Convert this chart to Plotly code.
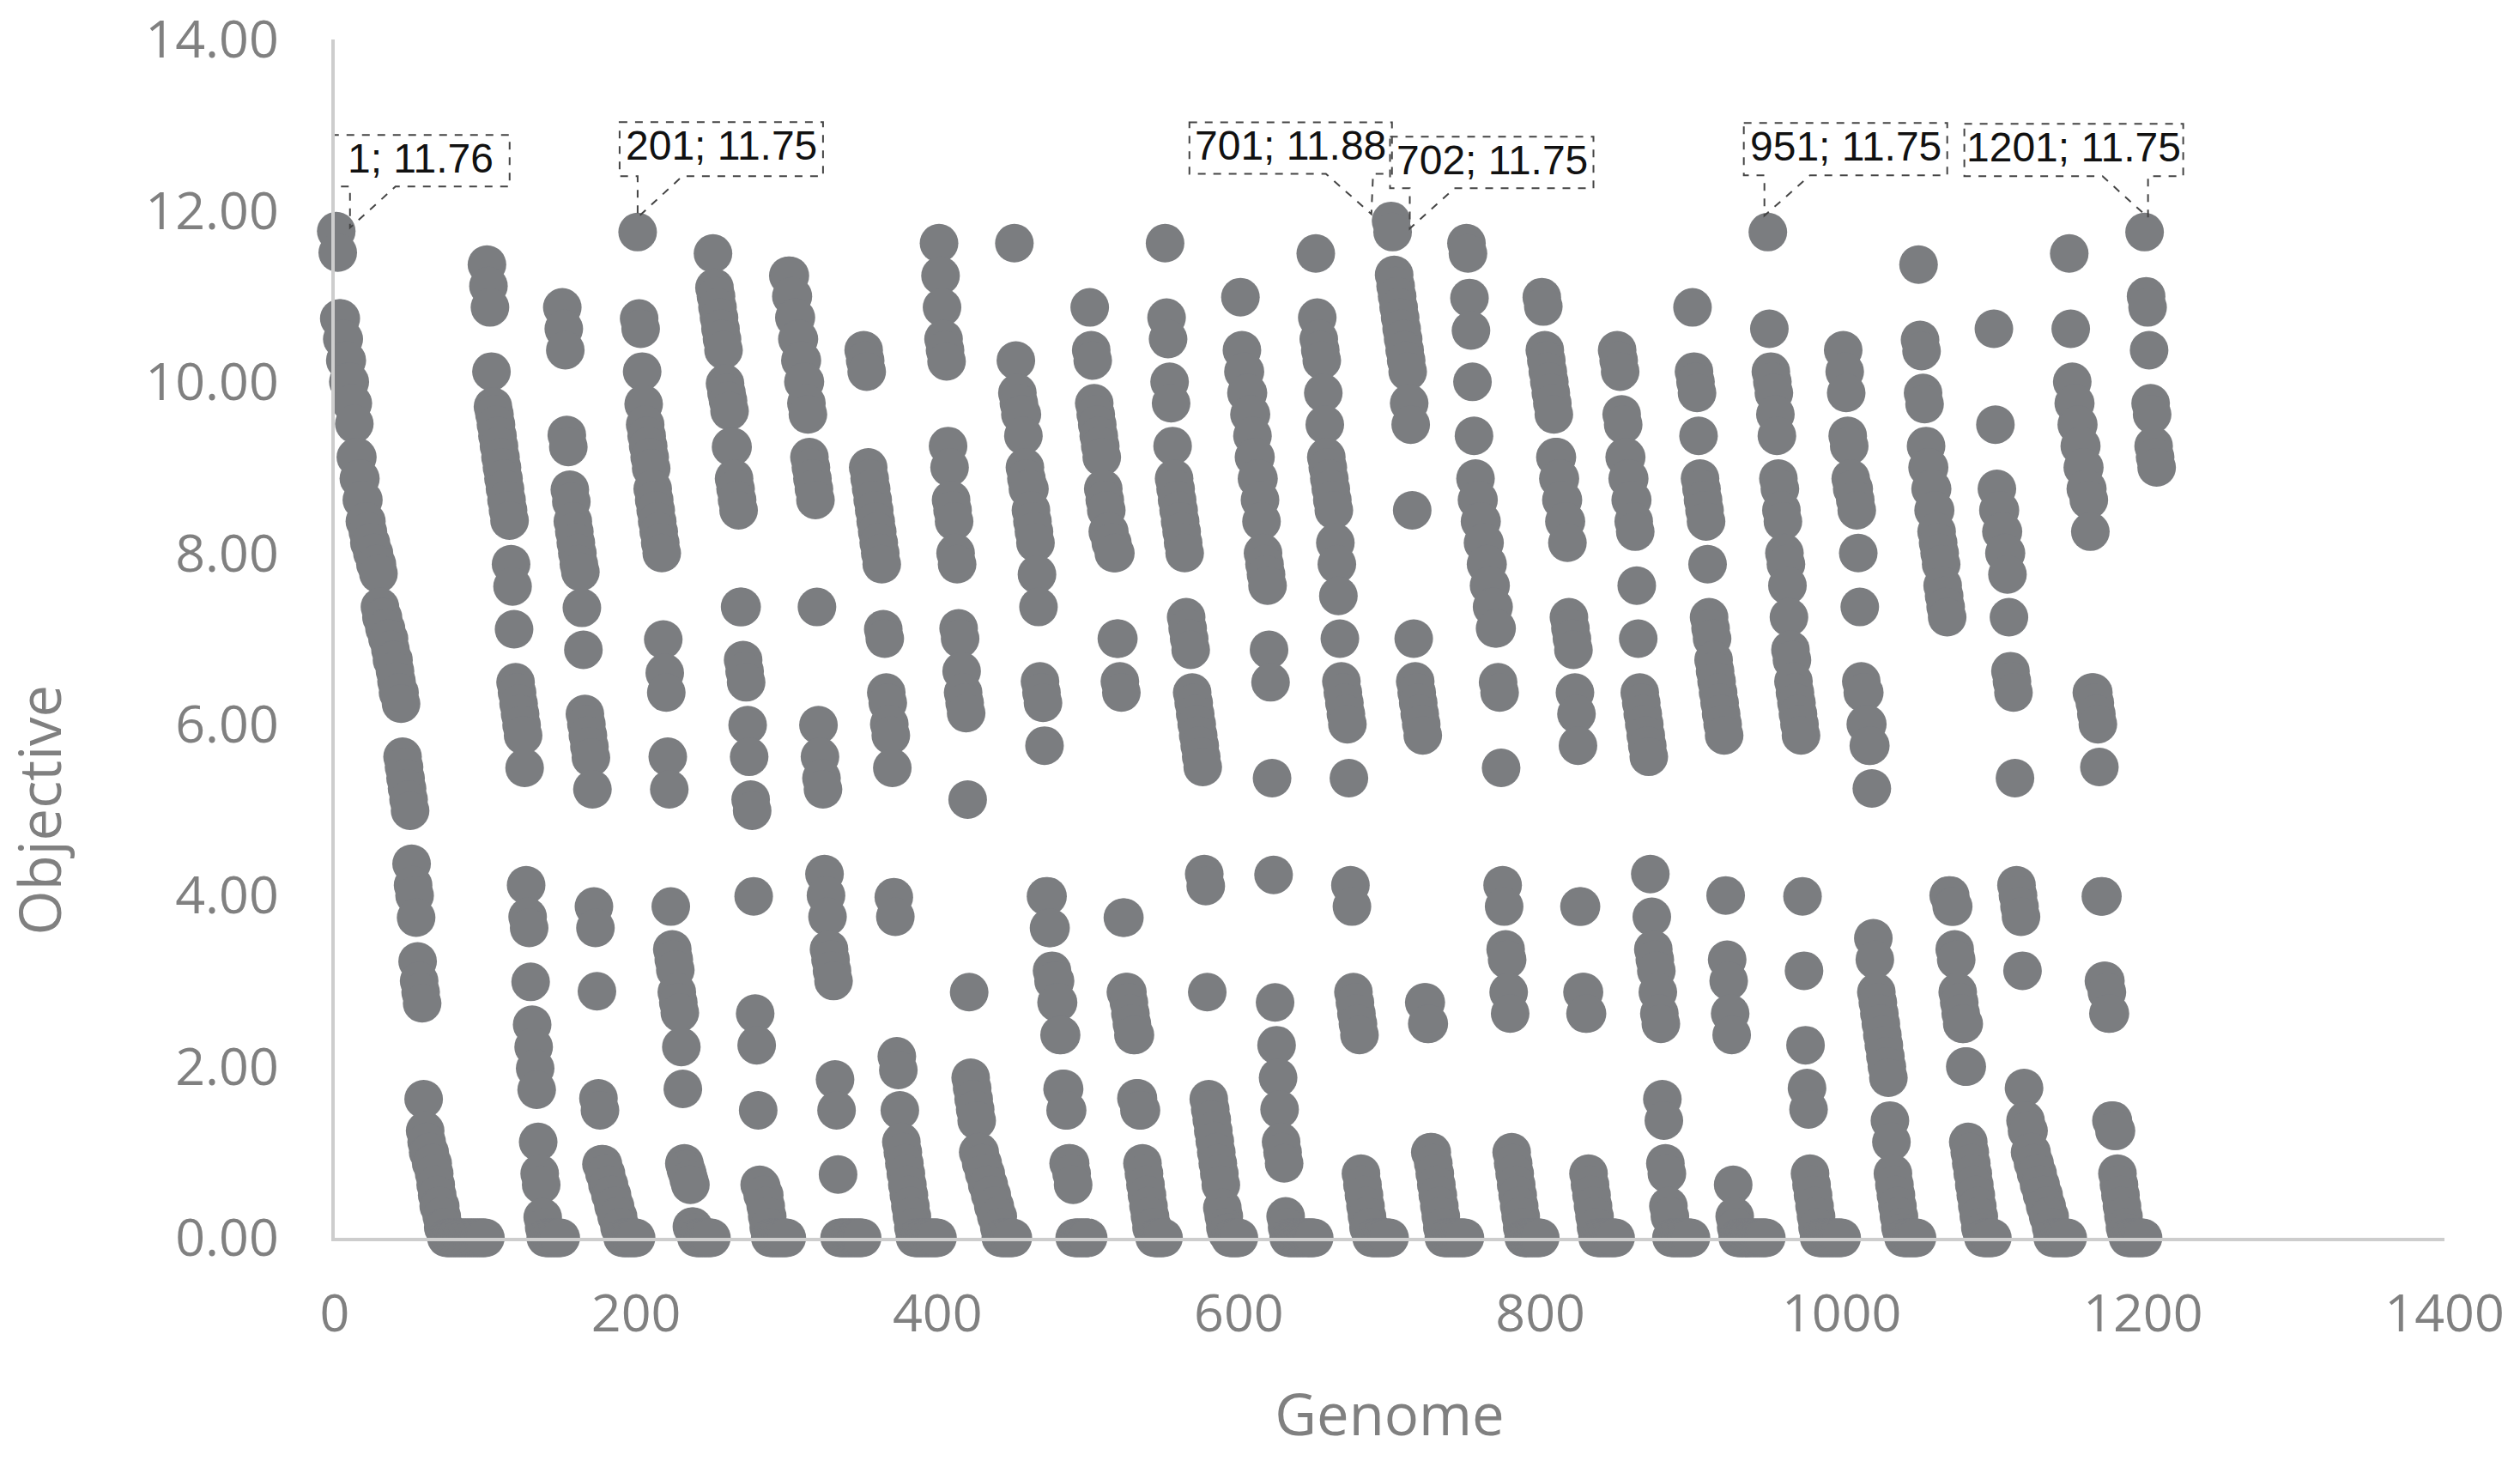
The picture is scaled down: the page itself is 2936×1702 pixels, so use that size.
import plotly.graph_objects as go

axis_x_title = "Genome"
axis_y_title = "Objective"

gen_001 = [11.76, 11.51, 10.74, 10.74, 10.5, 10.5, 10.25, 10.25, 10.0, 10.0, 9.75, 9.75, 9.51,
           9.12, 9.12, 8.87, 8.87, 8.62, 8.62, 8.37, 8.37, 8.25, 8.12, 8.12, 8.0, 8.0, 7.87, 7.87, 7.76,
           7.37, 7.25, 7.25, 7.12, 7.12, 7.0, 7.0, 6.87, 6.75, 6.75, 6.62, 6.5, 6.37, 6.37, 6.24,
           5.62, 5.5, 5.37, 5.25, 5.12, 4.99, 4.37, 4.12, 4.0, 3.74, 3.23, 3.0, 2.87, 2.74, 1.62,
           1.25, 1.12, 1.0, 1.0, 0.87, 0.87, 0.75, 0.62, 0.5, 0.37, 0.37, 0.25, 0.12, 0.12,
           0, 0, 0, 0, 0, 0, 0, 0, 0, 0, 0, 0, 0, 0, 0, 0, 0, 0, 0, 0, 0, 0, 0, 0, 0, 0, 0]
gen_101 = [11.37, 11.12, 10.87, 10.12, 9.71, 9.62, 9.5, 9.37, 9.25, 9.12, 9.0, 8.87, 8.75, 8.62, 8.5, 8.38,
           7.87, 7.61, 7.11, 6.49, 6.37, 6.24, 6.12, 5.99, 5.87, 5.49, 4.12, 3.75, 3.62, 2.99, 2.49, 2.23,
           1.98, 1.73, 1.12, 0.75, 0.62, 0.24, 0.12, 0, 0, 0, 0, 0, 0, 0, 0, 0, 0, 0]
gen_151 = [10.87, 10.62, 10.37, 9.38, 9.24, 8.74, 8.6, 8.37, 8.25, 8.12, 8.0, 7.87, 7.78, 7.36, 6.87, 6.12,
           6.0, 5.87, 5.74, 5.61, 5.24, 3.87, 3.62, 2.88, 1.63, 1.49, 0.86, 0.86, 0.75, 0.75, 0.62, 0.62,
           0.5, 0.5, 0.37, 0.37, 0.25, 0.25, 0.12, 0.12, 0, 0, 0, 0, 0, 0, 0, 0, 0, 0]
gen_201 = [11.75, 10.74, 10.62, 10.12, 9.74, 9.5, 9.37, 9.25, 9.12, 8.99, 8.75, 8.62, 8.5, 8.37, 8.25, 8.12,
           8.0, 6.99, 6.6, 6.37, 5.62, 5.24, 3.87, 3.37, 3.25, 3.13, 2.87, 2.75, 2.63, 2.23, 1.74, 0.87,
           0.8, 0.75, 0.68, 0.62, 0.13, 0.13, 0.06, 0, 0, 0, 0, 0, 0, 0, 0, 0, 0, 0]
gen_251 = [11.5, 11.1, 11.0, 10.87, 10.75, 10.62, 10.5, 10.37, 9.98, 9.87, 9.78, 9.66, 9.24, 9.24, 8.87, 8.75,
           8.62, 8.5, 7.37, 7.37, 6.75, 6.62, 6.49, 5.99, 5.62, 5.12, 4.99, 3.99, 2.62, 2.25, 1.49, 0.62,
           0.6, 0.5, 0.5, 0.37, 0.25, 0.12, 0, 0, 0, 0, 0, 0, 0, 0, 0, 0, 0, 0]
gen_301 = [11.24, 11.24, 11.0, 11.0, 10.75, 10.75, 10.5, 10.5, 10.25, 10.25, 10.0, 10.0, 9.75, 9.62,
           9.12, 9.0, 8.87, 8.75, 8.62, 7.37, 5.99, 5.62, 5.37, 5.24, 4.25, 4.0, 3.75, 3.37, 3.25, 3.12,
           3.0, 1.85, 1.49, 0.74, 0, 0, 0, 0, 0, 0, 0, 0, 0, 0, 0, 0, 0, 0, 0, 0]
gen_351 = [10.37, 10.25, 10.12, 9.0, 8.87, 8.75, 8.62, 8.5, 8.37, 8.25, 8.12, 8.0, 7.87, 7.11, 7.0, 6.37,
           6.25, 6.0, 5.87, 5.49, 3.98, 3.75, 2.12, 1.96, 1.49, 1.12, 1.0, 0.87, 0.75, 0.62, 0.5, 0.37,
           0.25, 0.12, 0, 0, 0, 0, 0, 0, 0, 0, 0, 0, 0, 0, 0, 0, 0, 0]
gen_401 = [11.62, 11.24, 10.87, 10.5, 10.37, 10.24, 9.25, 9.0, 8.62, 8.5, 8.37, 8.0, 7.87, 7.12, 7.0, 6.62,
           6.37, 6.25, 6.13, 5.12, 2.87, 1.87, 1.75, 1.62, 1.5, 1.37, 1.0, 1.0, 0.87, 0.87, 0.75, 0.75,
           0.62, 0.62, 0.5, 0.5, 0.37, 0.37, 0.25, 0.25, 0.12, 0, 0, 0, 0, 0, 0, 0, 0, 0]
gen_451 = [11.62, 10.25, 9.87, 9.75, 9.62, 9.62, 9.37, 9.0, 8.87, 8.75, 8.75, 8.5, 8.37, 8.25, 8.12, 7.75,
           7.37, 6.5, 6.37, 6.25, 5.75, 3.99, 3.99, 3.62, 3.62, 3.12, 3.0, 3.0, 2.75, 2.75, 2.37, 2.37,
           1.74, 1.74, 1.49, 1.49, 0.87, 0.87, 0.75, 0.62, 0, 0, 0, 0, 0, 0, 0, 0, 0, 0]
gen_501 = [10.87, 10.37, 10.25, 9.75, 9.62, 9.5, 9.37, 9.25, 9.12, 8.75, 8.62, 8.5, 8.25, 8.25, 8.12, 8.12,
           8.0, 8.0, 7.0, 7.0, 6.5, 6.37, 3.74, 3.74, 2.87, 2.87, 2.75, 2.62, 2.5, 2.37, 2.37, 1.63, 1.63,
           1.49, 1.49, 0.87, 0.75, 0.62, 0.5, 0.37, 0.25, 0.12, 0.12, 0, 0, 0, 0, 0, 0, 0]
gen_551 = [11.62, 10.75, 10.5, 10.0, 9.75, 9.25, 8.87, 8.75, 8.62, 8.5, 8.37, 8.25, 8.12, 8.0, 7.25, 7.12,
           7.0, 6.87, 6.37, 6.25, 6.12, 6.0, 5.87, 5.75, 5.62, 5.5, 4.25, 4.11, 2.87, 1.62, 1.5, 1.38,
           1.25, 1.13, 1.0, 0.87, 0.75, 0.62, 0.35, 0.25, 0.12, 0.06, 0.06, 0, 0, 0, 0, 0, 0, 0]
gen_601 = [10.99, 10.37, 10.12, 10.12, 9.87, 9.87, 9.62, 9.62, 9.37, 9.12, 9.12, 8.87, 8.87, 8.62, 8.37, 8.0,
           7.87, 7.75, 7.62, 6.87, 6.49, 5.37, 4.24, 2.75, 2.25, 1.87, 1.5, 1.12, 1.0, 0.87, 0.25, 0.12,
           0, 0, 0, 0, 0, 0, 0, 0, 0, 0, 0, 0, 0, 0, 0, 0, 0, 0]
gen_651 = [11.5, 10.75, 10.5, 10.37, 10.25, 9.87, 9.5, 9.12, 9.0, 8.87, 8.75, 8.62, 8.5, 8.12, 7.87, 7.5,
           7.0, 6.5, 6.37, 6.25, 6.12, 6.0, 5.37, 4.12, 3.87, 2.87, 2.75, 2.62, 2.5, 2.37, 0.75, 0.62,
           0.5, 0.37, 0.25, 0.12, 0.12, 0, 0, 0, 0, 0, 0, 0, 0, 0, 0, 0, 0, 0]
gen_701 = [11.88, 11.75, 11.25, 11.12, 11.0, 10.87, 10.75, 10.62, 10.5, 10.37, 10.25, 10.12, 9.75, 9.5, 8.5,
           7.0, 6.5, 6.37, 6.25, 6.12, 6.0, 5.87, 2.75, 2.75, 2.5, 2.5, 1.0, 1.0, 0.87, 0.75, 0.62, 0.5,
           0.37, 0.25, 0.12, 0, 0, 0, 0, 0, 0, 0, 0, 0, 0, 0, 0, 0, 0, 0]
gen_751 = [11.62, 11.5, 10.98, 10.6, 10.0, 9.37, 8.87, 8.62, 8.62, 8.37, 8.37, 8.12, 8.12, 7.87, 7.87, 7.62,
           7.62, 7.37, 7.37, 7.12, 7.12, 6.49, 6.37, 5.49, 4.12, 3.87, 3.37, 3.25, 2.87, 2.62, 1.0, 0.87,
           0.75, 0.62, 0.5, 0.37, 0.25, 0.12, 0, 0, 0, 0, 0, 0, 0, 0, 0, 0, 0, 0]
gen_801 = [10.99, 10.88, 10.37, 10.25, 10.12, 10.0, 9.87, 9.75, 9.62, 9.12, 9.12, 8.87, 8.87, 8.62, 8.62, 8.37,
           8.37, 8.12, 7.25, 7.12, 7.0, 6.87, 6.37, 6.12, 5.75, 3.87, 3.87, 2.87, 2.87, 2.62, 2.62, 0.75,
           0.62, 0.5, 0.37, 0.25, 0.12, 0, 0, 0, 0, 0, 0, 0, 0, 0, 0, 0, 0, 0]
gen_851 = [10.37, 10.25, 10.12, 9.62, 9.5, 9.12, 9.12, 8.87, 8.87, 8.62, 8.62, 8.37, 8.25, 7.62, 7.0, 6.37,
           6.25, 6.12, 6.0, 5.87, 5.75, 5.62, 4.25, 3.75, 3.37, 3.25, 3.12, 2.87, 2.62, 2.5, 1.62, 1.37,
           0.87, 0.75, 0.37, 0.25, 0, 0, 0, 0, 0, 0, 0, 0, 0, 0, 0, 0, 0, 0]
gen_901 = [10.87, 10.12, 10.0, 9.87, 9.37, 8.87, 8.75, 8.62, 8.5, 8.37, 7.87, 7.25, 7.12, 7.0, 6.75, 6.62,
           6.5, 6.37, 6.25, 6.12, 6.0, 5.87, 4.0, 3.25, 3.0, 2.62, 2.37, 0.62, 0.25, 0.12,
           0, 0, 0, 0, 0, 0, 0, 0, 0, 0, 0, 0, 0, 0, 0, 0, 0, 0, 0, 0]
gen_951 = [11.75, 10.62, 10.12, 10.0, 9.87, 9.62, 9.37, 8.87, 8.75, 8.5, 8.37, 8.0, 7.87, 7.62, 7.25, 6.87,
           6.75, 6.5, 6.37, 6.25, 6.12, 6.0, 5.87, 3.99, 3.12, 2.25, 1.75, 1.5, 0.75, 0.62, 0.5, 0.37,
           0.25, 0.12, 0, 0, 0, 0, 0, 0, 0, 0, 0, 0, 0, 0, 0, 0, 0, 0]
gen_1001 = [10.37, 10.12, 9.87, 9.37, 9.25, 8.87, 8.75, 8.75, 8.62, 8.5, 8.0, 7.37, 6.5, 6.37, 6.37, 6.0,
            6.0, 5.75, 5.75, 5.25, 3.5, 3.25, 2.87, 2.75, 2.62, 2.5, 2.37, 2.25, 2.12, 2.0, 1.87, 1.37,
            1.12, 0.75, 0.62, 0.5, 0.37, 0.25, 0.12, 0.06, 0, 0, 0, 0, 0, 0, 0, 0, 0, 0]
gen_1051 = [11.37, 10.49, 10.36, 9.87, 9.74, 9.25, 9.0, 9.0, 8.75, 8.75, 8.5, 8.5, 8.25, 8.12, 8.0, 7.87,
            7.62, 7.5, 7.37, 7.25, 4.0, 4.0, 3.87, 3.87, 3.37, 3.25, 2.87, 2.75, 2.62, 2.5, 2.5, 2.0, 2.0,
            1.12, 1.0, 0.87, 0.75, 0.62, 0.5, 0.37, 0.25, 0.12, 0.06, 0, 0, 0, 0, 0, 0, 0]
gen_1101 = [10.62, 9.5, 8.75, 8.5, 8.5, 8.25, 8.25, 8.0, 8.0, 7.75, 7.25, 6.62, 6.5, 6.37, 5.37, 4.12,
            4.0, 3.87, 3.75, 3.12, 1.75, 1.37, 1.25, 1.25, 1.0, 1.0, 0.87, 0.87, 0.75, 0.75, 0.62, 0.62,
            0.5, 0.5, 0.37, 0.37, 0.25, 0.25, 0.12, 0, 0, 0, 0, 0, 0, 0, 0, 0, 0, 0]
gen_1151 = [11.5, 10.62, 10.0, 9.75, 9.75, 9.5, 9.5, 9.25, 9.25, 9.0, 9.0, 8.75, 8.75, 8.62, 8.25, 6.37,
            6.37, 6.25, 6.12, 6.0, 5.5, 3.99, 3.99, 3.0, 3.0, 2.87, 2.62, 2.62, 1.37, 1.37, 1.25, 1.25,
            0.75, 0.62, 0.5, 0.37, 0.25, 0.12, 0.06, 0, 0, 0, 0, 0, 0, 0, 0, 0, 0, 0]
gen_1201 = [11.75, 11.0, 10.87, 10.37, 9.75, 9.62, 9.25, 9.12, 9.0]

generations = [(1, gen_001), (101, gen_101), (151, gen_151), (201, gen_201), (251, gen_251),
               (301, gen_301), (351, gen_351), (401, gen_401), (451, gen_451), (501, gen_501),
               (551, gen_551), (601, gen_601), (651, gen_651), (701, gen_701), (751, gen_751),
               (801, gen_801), (851, gen_851), (901, gen_901), (951, gen_951), (1001, gen_1001),
               (1051, gen_1051), (1101, gen_1101), (1151, gen_1151), (1201, gen_1201)]

label_genomes = [1, 201, 701, 702, 951, 1201]
label_values = [11.76, 11.75, 11.88, 11.75, 11.75, 11.75]
label_texts = ["1; 11.76", "201; 11.75", "701; 11.88", "702; 11.75", "951; 11.75", "1201; 11.75"]
# callout outlines in pixels relative to the labelled point (+x right, +y up)
label_outlines = [
    [(-6, 112), (202, 112), (202, 52), (69, 52), (16, 4), (16, 52), (-6, 52)],
    [(-21, 128), (216, 128), (216, 65), (52, 65), (0, 17), (0, 65), (-21, 65)],
    [(-235, 115), (1, 115), (1, 55), (-21, 55), (-23, 8), (-76, 55), (-235, 55)],
    [(-3, 111), (234, 111), (234, 51), (72, 51), (20, 4), (20, 51), (-3, 51)],
    [(-28, 127), (209, 127), (209, 66), (49, 66), (-4, 19), (-4, 66), (-28, 66)],
    [(-210, 126), (45, 126), (45, 65), (4, 65), (4, 17), (-49, 65), (-210, 65)],
]

GREY = "#7b7d80"
AXIS = "#cdcdcd"
TEXT = "#808080"

xs, ys = [], []
for start, values in generations:
    for i, v in enumerate(values):
        xs.append(start + i)
        ys.append(v)

fig = go.Figure(go.Scatter(x=xs, y=ys, mode="markers", cliponaxis=False,
                           marker=dict(size=45, color=GREY, line=dict(width=0))))

shapes, annotations = [], []
for g, v, t, pts in zip(label_genomes, label_values, label_texts, label_outlines):
    path = "M " + " L ".join(f"{a} {b}" for a, b in pts) + " Z"
    shapes.append(dict(type="path", xref="x", yref="y", xsizemode="pixel", ysizemode="pixel",
                       xanchor=g, yanchor=v, path=path, layer="above",
                       line=dict(color="#444444", width=2, dash="dash"),
                       fillcolor="rgba(255,255,255,0)"))
    left = min(p[0] for p in pts)
    right = max(p[0] for p in pts)
    top = max(p[1] for p in pts)
    annotations.append(dict(x=g, y=v, xref="x", yref="y", text=t, showarrow=False,
                            xanchor="center", yanchor="middle",
                            xshift=(left + right) / 2, yshift=top - 27,
                            font=dict(family="Liberation Sans", size=48, color="#111111")))

annotations.append(dict(x=0, y=5.0, xref="paper", yref="y", text=axis_y_title, showarrow=False,
                        textangle=-90, xanchor="center", yanchor="middle", xshift=-345,
                        font=dict(family="Open Sans", size=67, color=TEXT)))

fig.update_layout(
    width=2936, height=1702, autosize=False,
    margin=dict(l=389.5, r=88, t=46, b=260, pad=0, autoexpand=False),
    paper_bgcolor="white", plot_bgcolor="white", showlegend=False,
    font=dict(family="Open Sans", size=61, color=TEXT),
    shapes=shapes, annotations=annotations,
    xaxis=dict(range=[0, 1400], dtick=200, showgrid=False, zeroline=False, showline=True,
               linecolor=AXIS, linewidth=4, ticks="outside", ticklen=32, tickcolor="rgba(0,0,0,0)",
               ticklabeloverflow="allow", automargin=False,
               tickfont=dict(family="Open Sans", size=61, color=TEXT),
               title=dict(text=axis_x_title, standoff=58,
                          font=dict(family="Open Sans", size=67, color=TEXT))),
    yaxis=dict(range=[0, 14], dtick=2, tickformat=".2f", showgrid=False, zeroline=False, showline=True,
               linecolor=AXIS, linewidth=4, ticks="outside", ticklen=49, tickcolor="rgba(0,0,0,0)",
               ticklabeloverflow="allow", automargin=False,
               tickfont=dict(family="Open Sans", size=61, color=TEXT)),
)

fig.write_html("out.html", config=dict(displayModeBar=False),
               post_script="document.body.style.margin='0';")
